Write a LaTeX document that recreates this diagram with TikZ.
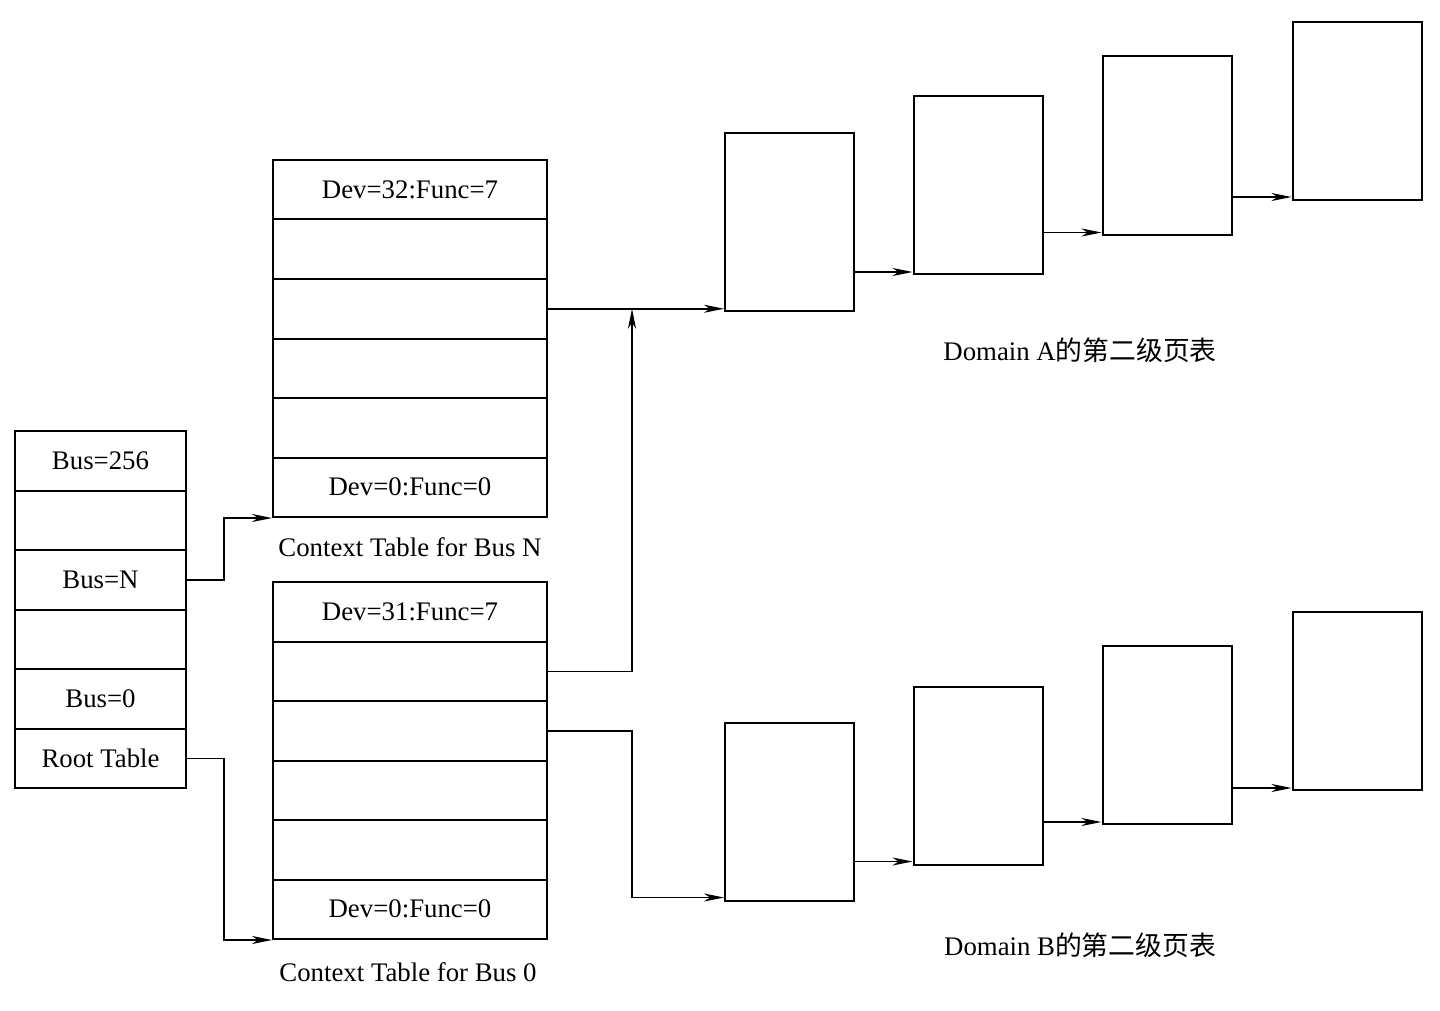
\documentclass[tikz,border=0pt]{standalone}
\usepackage{fontspec}
\setmainfont{Liberation Serif}
\newfontfamily\cjk{Noto Sans CJK SC}
\usetikzlibrary{arrows.meta,calc}
\begin{document}
\begin{tikzpicture}[x=1pt,y=-1pt,
  every node/.style={font=\fontsize{26.8}{32}\selectfont},
  cell/.style={draw,line width=2pt,inner sep=0pt,minimum height=59.5pt},
  rootcell/.style={cell,minimum width=171pt},
  ctcell/.style={cell,minimum width=274pt},
  pagebox/.style={draw,line width=2pt,inner sep=0pt,minimum width=129pt,minimum height=178pt},
  arr/.style={line width=1.5pt,-{Stealth[length=20pt,width=8pt,inset=6pt]}}]
\useasboundingbox (0,0) rectangle (1440,1011);
% root table
\foreach \i/\t in {1/{Bus=256},2/{},3/{Bus=N},4/{},5/{Bus=0},6/{Root Table}}
  \node[rootcell] (r\i) at (100.5,{431+29.75+59.5*(\i-1)}) {\t};
% context table bus N
\foreach \i/\t in {1/{Dev=32:Func=7},2/{},3/{},4/{},5/{},6/{Dev=0:Func=0}}
  \node[ctcell] (n\i) at (410,{160+29.75+59.5*(\i-1)}) {\t};
% context table bus 0
\foreach \i/\t in {1/{Dev=31:Func=7},2/{},3/{},4/{},5/{},6/{Dev=0:Func=0}}
  \node[ctcell] (z\i) at (410,{582+29.75+59.5*(\i-1)}) {\t};
\node (capN) at (410,547) {Context Table for Bus N};
\node (cap0) at (408,972) {Context Table for Bus 0};
% domain A boxes
\node[pagebox] (a1) at (789.5,222) {};
\node[pagebox] (a2) at (978,185) {};
\node[pagebox] (a3) at (1167,145.5) {};
\node[pagebox] (a4) at (1357,111) {};
% domain B boxes
\node[pagebox] (b1) at (789.5,811.5) {};
\node[pagebox] (b2) at (978,775.5) {};
\node[pagebox] (b3) at (1167,735) {};
\node[pagebox] (b4) at (1357,701) {};
\node (labA) at (1080,350) {Domain A{\cjk 的第二级页表}};
\node (labB) at (1080,945) {Domain B{\cjk 的第二级页表}};
% connectors from root table
\draw[arr] (r3.east) -- ++(37,0) |- (n6.south west);
\draw[arr] (r6.east) -- ++(37,0) |- (z6.south west);
% context tables to domains
\coordinate (jx) at (632,0);
\draw[arr] (n3.east) -- (n3.east -| a1.west);
\draw[arr] (z2.east) -| (jx |- n3.east);
\coordinate (tb1) at ($(b1.south west)+(0,-4)$);
\draw[arr] (z3.east) -| (jx |- tb1) -- (tb1);
% domain A chain
\coordinate (ta2) at ($(a2.south west)+(0,-3)$);
\coordinate (ta3) at ($(a3.south west)+(0,-3)$);
\coordinate (ta4) at ($(a4.south west)+(0,-4)$);
\draw[arr] (a1.east |- ta2) -- (ta2);
\draw[arr] (a2.east |- ta3) -- (ta3);
\draw[arr] (a3.east |- ta4) -- (ta4);
% domain B chain
\coordinate (tb2) at ($(b2.south west)+(0,-4)$);
\coordinate (tb3) at ($(b3.south west)+(0,-3)$);
\coordinate (tb4) at ($(b4.south west)+(0,-3)$);
\draw[arr] (b1.east |- tb2) -- (tb2);
\draw[arr] (b2.east |- tb3) -- (tb3);
\draw[arr] (b3.east |- tb4) -- (tb4);
\end{tikzpicture}
\end{document}
